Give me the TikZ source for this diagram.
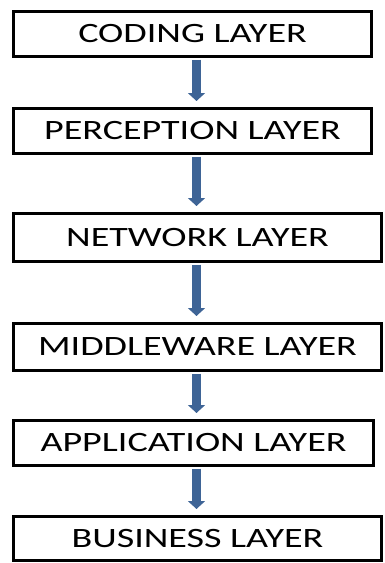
\documentclass[tikz,border=0pt]{standalone}
\usepackage{fontspec}
\setmainfont{Carlito}[FakeStretch=1.36]
\usetikzlibrary{arrows.meta}
\definecolor{arrowblue}{RGB}{62,100,150}
\tikzset{
  layer/.style={draw=black, line width=3pt, fill=white, inner sep=0pt,
    font=\fontsize{28}{28}\selectfont},
  flow/.style={draw=arrowblue, line width=8.5pt, shorten <=1.5pt, shorten >=6pt,
    -{Triangle[width=17pt,length=8pt]}}
}
\begin{document}
\begin{tikzpicture}[x=1pt,y=-1pt]
  \useasboundingbox (0,0) rectangle (385,563);
  \node[layer, minimum width=358pt, minimum height=45pt] (coding) at (192.5,34) {CODING LAYER};
  \node[layer, minimum width=358pt, minimum height=45pt] (perception) at (192.5,131) {PERCEPTION LAYER};
  \node[layer, minimum width=368pt, minimum height=48pt] (network) at (197.5,237.5) {NETWORK LAYER};
  \node[layer, minimum width=368pt, minimum height=47pt] (middleware) at (197.5,347) {MIDDLEWARE LAYER};
  \node[layer, minimum width=360pt, minimum height=45pt] (application) at (193.5,443) {APPLICATION LAYER};
  \node[layer, minimum width=368pt, minimum height=44pt] (business) at (197.5,538.5) {BUSINESS LAYER};
  % connectors run down a common vertical line
  \foreach \a/\b in {coding/perception, perception/network, network/middleware,
                     middleware/application, application/business}{
    \draw[flow] (\a.south -| 196.5,0) -- (\b.north -| 196.5,0);
  }
\end{tikzpicture}
\end{document}
